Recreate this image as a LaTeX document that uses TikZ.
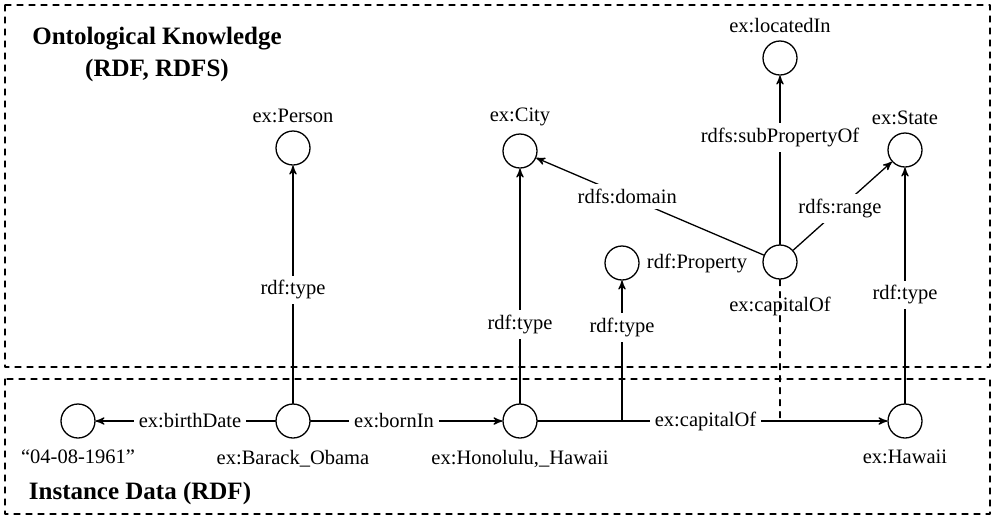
\documentclass[tikz,border=0pt]{standalone}
\usepackage{fontspec}
\setmainfont{Liberation Serif}
\usetikzlibrary{arrows}

\begin{document}
\begin{tikzpicture}[line cap=round,line join=round,>=stealth',x=0.5pt,y=-0.5pt,
        line width=0.65pt,font=\fontsize{10.25}{12}\selectfont,
        res/.style={draw,circle,minimum size=17pt,inner sep=0pt},
        elbl/.style={fill=white,inner sep=2.5pt},
        heading/.style={font=\fontsize{12.5}{16}\selectfont\bfseries,align=center}]
        \useasboundingbox (0,0) rectangle (996,521);
        % the two layers
        \draw [dashed,line width=0.6pt] (5,5) rectangle (990,367);
        \draw [dashed,line width=0.6pt] (5,379) rectangle (990,514);
        \node [heading] (onto) at (157,54) {Ontological Knowledge\\(RDF, RDFS)};
        \node [heading] (inst) at (140,493) {Instance Data (RDF)};
        % ontology resources
        \node [res,label={above:{ex:Person}}] (person) at (293,148) {};
        \node [res,label={above:{ex:City}}] (city) at (520,151) {};
        \node [res,label={above:{ex:locatedIn}}] (located) at (780,58) {};
        \node [res,label={above:{ex:State}}] (state) at (905,150) {};
        \node [res,label={right:{rdf:Property}}] (prop) at (622,263) {};
        \node [res,label={[label distance=5pt]below:{ex:capitalOf}}] (capof) at (780,262) {};
        % instance resources
        \node [res,label={[label distance=2pt]below:{``04-08-1961''}}] (date) at (78,421) {};
        \node [res,label={[label distance=2pt]below:{ex:Barack\_Obama}}] (obama) at (293,421) {};
        \node [res,label={[label distance=2pt]below:{ex:Honolulu,\_Hawaii}}] (honolulu) at (520,421) {};
        \node [res,label={[label distance=2pt]below:{ex:Hawaii}}] (hawaii) at (905,421) {};
        \coordinate (propjoin) at (622,421);
        \coordinate (capjoin) at (780,421);
        % instance edges
        \draw [->] (obama) -- node[elbl,pos=0.475] {ex:birthDate} (date);
        \draw [->] (obama) -- node[elbl,pos=0.435] {ex:bornIn} (honolulu);
        \draw [->] (honolulu) -- node[elbl,pos=0.48] {ex:capitalOf} (hawaii);
        \draw [dashed] (capof) -- (capjoin);
        % typing edges
        \draw [->] (obama) -- node[elbl,pos=0.477] {rdf:type} (person);
        \draw [->] (honolulu) -- node[elbl,pos=0.335] {rdf:type} (city);
        \draw [->] (propjoin) -- node[elbl,pos=0.667] {rdf:type} (prop);
        \draw [->] (hawaii) -- node[elbl,pos=0.46] {rdf:type} (state);
        % schema edges
        \draw [->] (capof) -- node[elbl,pos=0.635] {rdfs:subPropertyOf} (located);
        \draw [->] (capof) -- node[elbl,pos=0.6] {rdfs:domain} (city);
        \draw [->] (capof) -- node[elbl,pos=0.475] {rdfs:range} (state);
\end{tikzpicture}
\end{document}
